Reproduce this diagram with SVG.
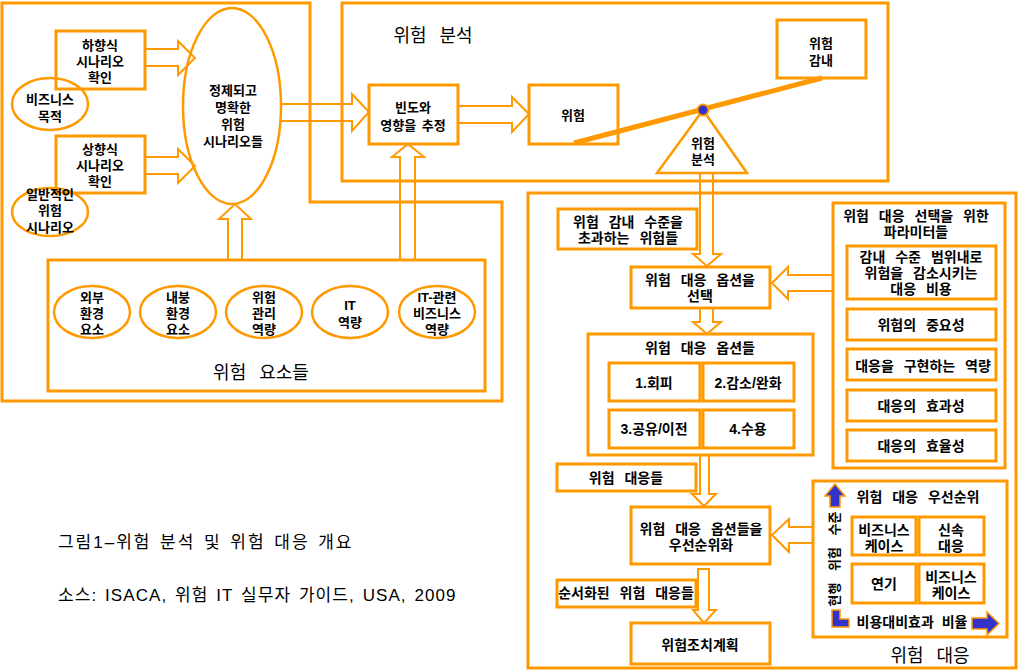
<svg xmlns="http://www.w3.org/2000/svg" width="1021" height="671" viewBox="0 0 1021 671">
<style>
.bx{fill:#fff;stroke:#FF9900;stroke-width:3}
.bn{fill:none;stroke:#FF9900;stroke-width:3}
.el{fill:none;stroke:#FF9900;stroke-width:2.5}
.ar{fill:none;stroke:#FF9900;stroke-width:2}
.bl{fill:#3333CC;stroke:#FF9900;stroke-width:1.5}
text{font-family:"Liberation Sans","Noto Sans CJK KR","Noto Sans CJK SC",sans-serif;fill:#000}
.s13{font-size:13px;font-weight:bold;text-anchor:middle;word-spacing:4px}
.s14{font-size:14px;font-weight:bold;text-anchor:middle;word-spacing:6px}
.tt{font-size:18px;font-weight:normal;text-anchor:middle;word-spacing:8px}
.cap{font-size:17px;font-weight:normal;word-spacing:2px;letter-spacing:1.5px}
</style>
<rect width="1021" height="671" fill="#fff"/>

<g id="containers">
<path class="bn" d="M2,3 H310 V202 H502 V401 H2 Z"/>
<rect class="bn" x="342" y="3" width="546" height="178"/>
<rect class="bn" x="528" y="193" width="488" height="475"/>
<rect class="bn" x="48" y="260" width="437" height="131"/>
<text class="tt" x="433" y="41.5">위험 분석</text>
<text class="tt" x="261" y="378.5">위험 요소들</text>
<text class="tt" x="930" y="661.5">위험 대응</text>
</g>

<g id="connectors">
<path class="ar" d="M145,49 H178 V41 L195,58 L178,75 V66 H145"/>
<path class="ar" d="M145,157 H178 V149 L195,166 L178,183 V174 H145"/>
<path class="ar" d="M281,104 H352 V94 L369,112 L352,131 V121 H281"/>
<path class="ar" d="M228,260 V219 H219 L235,204 L251,219 H242 V260"/>
<path class="ar" d="M400,260 V157 H392 L408,144 L424,157 H415 V260"/>
<path class="ar" d="M458,106 H512 V97 L529,114 L512,132 V123 H458"/>
<path class="ar" d="M700,173 V254 H693 L707,266 L721,254 H713 V173"/>
<path class="ar" d="M833,275 H788 V267 L772,283 L788,299 V291 H833"/>
<path class="ar" d="M700,308 V322 H693 L707,334 L721,322 H713 V308"/>
<path class="ar" d="M700,455 V494 H692 L704,506 L716,494 H709 V455"/>
<path class="ar" d="M813,527 H789 V519 L772,535 L789,552 V543 H813"/>
<path class="ar" d="M698,569 H709 V610 H716 L704,623 L693,610 H698 Z"/>
</g>

<g id="n-top-down">
<rect class="bn" x="56" y="31" width="89" height="58"/>
<text class="s13"><tspan x="100" y="49.5">하향식</tspan><tspan x="100" y="65.5">시나리오</tspan><tspan x="100" y="81.5">확인</tspan></text>
</g>
<g id="n-bottom-up">
<rect class="bn" x="56" y="136" width="89" height="57"/>
<text class="s13"><tspan x="100" y="153.5">상향식</tspan><tspan x="100" y="169.5">시나리오</tspan><tspan x="100" y="185.5">확인</tspan></text>
</g>
<g id="n-biz-goal">
<ellipse class="el" cx="50" cy="104" rx="38" ry="26"/>
<text class="s13"><tspan x="50" y="103.5">비즈니스</tspan><tspan x="50" y="120.5">목적</tspan></text>
</g>
<g id="n-generic">
<ellipse class="el" cx="50" cy="212" rx="38" ry="24"/>
<text class="s13"><tspan x="50" y="198.5">일반적인</tspan><tspan x="50" y="214.5">위험</tspan><tspan x="50" y="231.5">시나리오</tspan></text>
</g>
<g id="n-scenarios">
<ellipse class="el" cx="232" cy="106" rx="49" ry="98"/>
<text class="s13"><tspan x="233" y="94.5">정제되고</tspan><tspan x="233" y="111.5">명확한</tspan><tspan x="233" y="128.5">위험</tspan><tspan x="233" y="145.5">시나리오들</tspan></text>
</g>

<g id="n-factor1"><ellipse class="el" cx="92" cy="312" rx="38" ry="26"/>
<text class="s13"><tspan x="92" y="301.5">외부</tspan><tspan x="92" y="317.5">환경</tspan><tspan x="92" y="333.5">요소</tspan></text></g>
<g id="n-factor2"><ellipse class="el" cx="178" cy="312" rx="38" ry="26"/>
<text class="s13"><tspan x="178" y="301.5">내붕</tspan><tspan x="178" y="317.5">환경</tspan><tspan x="178" y="333.5">요소</tspan></text></g>
<g id="n-factor3"><ellipse class="el" cx="264" cy="312" rx="38" ry="26"/>
<text class="s13"><tspan x="264" y="301.5">위험</tspan><tspan x="264" y="317.5">관리</tspan><tspan x="264" y="333.5">역량</tspan></text></g>
<g id="n-factor4"><ellipse class="el" cx="350" cy="312" rx="38" ry="26"/>
<text class="s13"><tspan x="350" y="309.5">IT</tspan><tspan x="350" y="326.5">역량</tspan></text></g>
<g id="n-factor5"><ellipse class="el" cx="437" cy="312" rx="38" ry="26"/>
<text class="s13"><tspan x="437" y="301.5">IT-관련</tspan><tspan x="437" y="317.5">비즈니스</tspan><tspan x="437" y="333.5">역량</tspan></text></g>

<g id="n-estimate">
<rect class="bn" x="369" y="85" width="89" height="59"/>
<text class="s13" style="word-spacing:2px"><tspan x="413" y="111.5">빈도와</tspan><tspan x="413" y="129.5">영향을 추정</tspan></text>
</g>
<g id="n-risk">
<rect class="bn" x="529" y="85" width="89" height="59"/>
<text class="s13" x="573" y="119.5">위험</text>
</g>
<g id="n-appetite">
<rect class="bn" x="777" y="20" width="89" height="58"/>
<text class="s13"><tspan x="821" y="47.5">위험</tspan><tspan x="821" y="64.5">감내</tspan></text>
</g>
<g id="n-scale">
<polygon class="bx" points="703,110 657,173 747,173" style="stroke-width:2.5"/>
<line x1="574" y1="143" x2="822" y2="78" stroke="#FF9900" stroke-width="5"/>
<circle cx="703" cy="110" r="5.5" fill="#3333CC" stroke="#FF9900" stroke-width="2"/>
<text class="s13"><tspan x="703" y="147.5">위험</tspan><tspan x="703" y="163.5">분석</tspan></text>
</g>

<g id="n-exceed">
<rect class="bn" x="558" y="209" width="139" height="40"/>
<text class="s14"><tspan x="628" y="227">위험 감내 수준을</tspan><tspan x="628" y="243">초과하는 위험들</tspan></text>
</g>
<g id="n-select">
<rect class="bn" x="631" y="267" width="139" height="41"/>
<text class="s14"><tspan x="700" y="285">위험 대응 옵션을</tspan><tspan x="700" y="301">선택</tspan></text>
</g>
<g id="n-options">
<rect class="bn" x="588" y="334" width="225" height="121"/>
<text class="s14" x="700" y="353">위험 대응 옵션들</text>
<rect class="bn" x="609" y="363" width="91" height="38"/>
<text class="s14" x="654" y="388">1.회피</text>
<rect class="bn" x="703" y="363" width="91" height="38"/>
<text class="s14" x="748" y="388">2.감소/완화</text>
<rect class="bn" x="609" y="410" width="91" height="38"/>
<text class="s14" x="654" y="434">3.공유/이전</text>
<rect class="bn" x="703" y="410" width="91" height="38"/>
<text class="s14" x="748" y="434">4.수용</text>
</g>
<g id="n-params">
<rect class="bn" x="833" y="203" width="172" height="265"/>
<text class="s14"><tspan x="916" y="221">위험 대응 선택을 위한</tspan><tspan x="916" y="237">파라미터들</tspan></text>
<rect class="bn" x="847" y="246" width="149" height="53"/>
<text class="s14"><tspan x="921" y="262">감내 수준 범위내로</tspan><tspan x="921" y="278">위험을 감소시키는</tspan><tspan x="921" y="294">대응 비용</tspan></text>
<rect class="bn" x="847" y="309" width="149" height="31"/>
<text class="s14" x="921" y="330">위험의 중요성</text>
<rect class="bn" x="847" y="349" width="149" height="31"/>
<text class="s14" x="923" y="371">대응을 구현하는 역량</text>
<rect class="bn" x="847" y="390" width="149" height="31"/>
<text class="s14" x="921" y="411">대응의 효과성</text>
<rect class="bn" x="847" y="430" width="149" height="31"/>
<text class="s14" x="921" y="451">대응의 효율성</text>
</g>
<g id="n-responses">
<rect class="bn" x="557" y="464" width="139" height="27"/>
<text class="s14" x="626" y="483">위험 대응들</text>
</g>
<g id="n-prioritize">
<rect class="bn" x="631" y="507" width="139" height="57"/>
<text class="s14"><tspan x="701" y="534">위험 대응 옵션들을</tspan><tspan x="701" y="550">우선순위화</tspan></text>
</g>
<g id="n-ordered">
<rect class="bn" x="557" y="580" width="139" height="27"/>
<text class="s14" x="626" y="598">순서화된 위험 대응들</text>
</g>
<g id="n-plan">
<rect class="bn" x="631" y="623" width="139" height="41"/>
<text class="s14" x="700" y="650">위험조치계획</text>
</g>
<g id="n-priority">
<rect class="bn" x="813" y="481" width="194" height="156"/>
<text class="s14" x="918" y="502">위험 대응 우선순위</text>
<polygon class="bl" points="835,484 845,496 840,496 840,507 830,507 830,496 825,496"/>
<text class="s13" transform="translate(834,559) rotate(-90)" x="0" y="4.5" style="word-spacing:8px">현행 위험 수준</text>
<rect class="bn" x="852" y="517" width="64" height="38"/>
<text class="s14"><tspan x="884" y="535">비즈니스</tspan><tspan x="884" y="551">케이스</tspan></text>
<rect class="bn" x="919" y="517" width="65" height="38"/>
<text class="s14"><tspan x="951" y="535">신속</tspan><tspan x="951" y="551">대응</tspan></text>
<rect class="bn" x="852" y="564" width="64" height="39"/>
<text class="s14" x="884" y="589">연기</text>
<rect class="bn" x="919" y="564" width="65" height="39"/>
<text class="s14"><tspan x="951" y="582">비즈니스</tspan><tspan x="951" y="598">케이스</tspan></text>
<polygon class="bl" points="832,610 840,610 840,619 849,619 849,627 832,627"/>
<text class="s14" x="912" y="627" style="word-spacing:4px">비용대비효과 비율</text>
<polygon class="bl" points="972,618 987,618 987,612 999,623.5 987,635 987,629 972,629"/>
</g>

<g id="caption">
<text class="cap" x="58" y="548" textLength="295" lengthAdjust="spacing">그림1–위험 분석 및 위험 대응 개요</text>
<text class="cap" x="58" y="601" textLength="399" lengthAdjust="spacing">소스: ISACA, 위험 IT 실무자 가이드, USA, 2009</text>
</g>
</svg>
